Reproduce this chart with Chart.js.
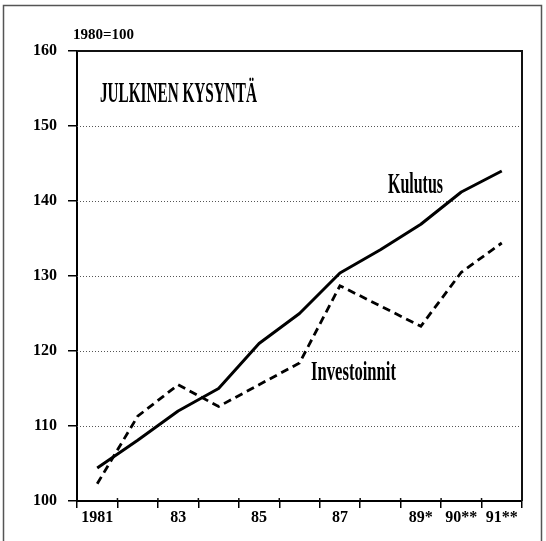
<!DOCTYPE html>
<html><head><meta charset="utf-8">
<script src="https://cdn.jsdelivr.net/npm/chart.js@4"></script>
<style>html,body{margin:0;padding:0;background:#fff;} canvas{display:block;}</style>
</head><body>
<canvas id="c" width="546" height="541"></canvas>
<script>
const years = ['1981','1982','1983','1984','1985','1986','1987','1988','1989','1990','1991'];
const tickLabels = ['1981','','83','','85','','87','','89*','90**','91**'];
const kulutus = [104.4, 108.1, 112.0, 115.0, 121.0, 125.0, 130.4, 133.5, 136.9, 141.2, 144.0];
const investoinnit = [102.3, 111.3, 115.5, 112.6, 115.5, 118.4, 128.7, 126.0, 123.3, 130.5, 134.4];
const yMin = 100, yMax = 160, yStep = 10;
const gridValues = [110, 120, 130, 140, 150];
const baseLabel = '1980=100';
const titleText = 'JULKINEN KYSYNTÄ';
const seriesNames = ['Kulutus', 'Investoinnit'];

function condText(ctx, text, x, y, size, weight, w) {
  ctx.save();
  ctx.font = weight + ' ' + size + 'px "Liberation Serif"';
  const m = ctx.measureText(text).width;
  ctx.translate(x, y);
  ctx.scale(w / m, 1);
  ctx.textBaseline = 'alphabetic';
  ctx.textAlign = 'left';
  ctx.fillStyle = '#000';
  ctx.fillText(text, 0, 0);
  ctx.restore();
}

const decor = {
  id: 'decor',
  beforeDatasetsDraw(chart) {
    const ctx = chart.ctx, a = chart.chartArea, ys = chart.scales.y, xs = chart.scales.x;
    ctx.save();
    // dotted grid lines
    ctx.strokeStyle = '#555';
    ctx.lineWidth = 1;
    ctx.setLineDash([1, 2]);
    gridValues.forEach(v => {
      const y = Math.round(ys.getPixelForValue(v)) + 0.5;
      ctx.beginPath(); ctx.moveTo(a.left, y); ctx.lineTo(a.right, y); ctx.stroke();
    });
    ctx.setLineDash([]);
    // plot box top & right
    ctx.strokeStyle = '#111';
    ctx.lineWidth = 2;
    const yt = ys.getPixelForValue(yMax);
    ctx.beginPath(); ctx.moveTo(a.left, yt); ctx.lineTo(a.right, yt); ctx.lineTo(a.right, a.bottom); ctx.stroke();
    // small upward stubs of x ticks crossing the axis
    ctx.lineWidth = 1.5;
    for (let i = 1; i < years.length; i++) {
      const x = (xs.getPixelForValue(i - 1) + xs.getPixelForValue(i)) / 2;
      ctx.beginPath(); ctx.moveTo(x, a.bottom); ctx.lineTo(x, a.bottom - 3); ctx.stroke();
    }
    // outer frame
    ctx.strokeStyle = '#555';
    ctx.lineWidth = 1.5;
    ctx.beginPath(); ctx.moveTo(3.5, 541); ctx.lineTo(3.5, 5.5); ctx.lineTo(541.5, 5.5); ctx.lineTo(541.5, 541); ctx.stroke();
    ctx.restore();
  },
  afterDraw(chart) {
    const ctx = chart.ctx;
    ctx.save();
    ctx.font = 'bold 15px "Liberation Serif"';
    ctx.fillStyle = '#000';
    ctx.textBaseline = 'middle';
    ctx.textAlign = 'left';
    ctx.fillText(baseLabel, 73, 35);
    ctx.restore();
    condText(ctx, titleText, 100, 102, 29, 'bold', 157);
    condText(ctx, seriesNames[0], 388, 192.5, 30, 'bold', 55);
    condText(ctx, seriesNames[1], 311, 380, 27.5, 'bold', 85);
  }
};

const tickFont = {family: 'Liberation Serif', weight: 'bold', size: 16};

new Chart(document.getElementById('c'), {
  type: 'line',
  data: {
    labels: years,
    datasets: [
      {label: seriesNames[0], data: kulutus, borderColor: '#000', borderWidth: 3, pointRadius: 0, tension: 0, borderJoinStyle: 'round', fill: false},
      {label: seriesNames[1], data: investoinnit, borderColor: '#000', borderWidth: 2.8, borderDash: [8, 5], pointRadius: 0, tension: 0, fill: false}
    ]
  },
  options: {
    responsive: false,
    animation: false,
    devicePixelRatio: 1,
    layout: {padding: {top: 51, right: 24, left: 0, bottom: 0}},
    plugins: {legend: {display: false}, tooltip: {enabled: false}},
    scales: {
      x: {
        type: 'category',
        offset: true,
        grid: {display: true, offset: true, drawOnChartArea: false, drawTicks: true, tickLength: 7, color: '#000', lineWidth: 1.5},
        border: {display: true, color: '#000', width: 2},
        ticks: {font: tickFont, color: '#000', padding: 0, maxRotation: 0, autoSkip: false,
          callback: (v, i) => tickLabels[i]},
        afterFit: s => { s.height = 40; }
      },
      y: {
        min: yMin, max: yMax,
        grid: {display: true, drawOnChartArea: false, drawTicks: true, tickLength: 9, color: '#000', lineWidth: 1.5},
        border: {display: true, color: '#000', width: 2},
        ticks: {stepSize: yStep, font: tickFont, color: '#000', padding: 11},
        afterFit: s => { s.width = 77; }
      }
    }
  },
  plugins: [decor]
});
</script>
</body></html>
